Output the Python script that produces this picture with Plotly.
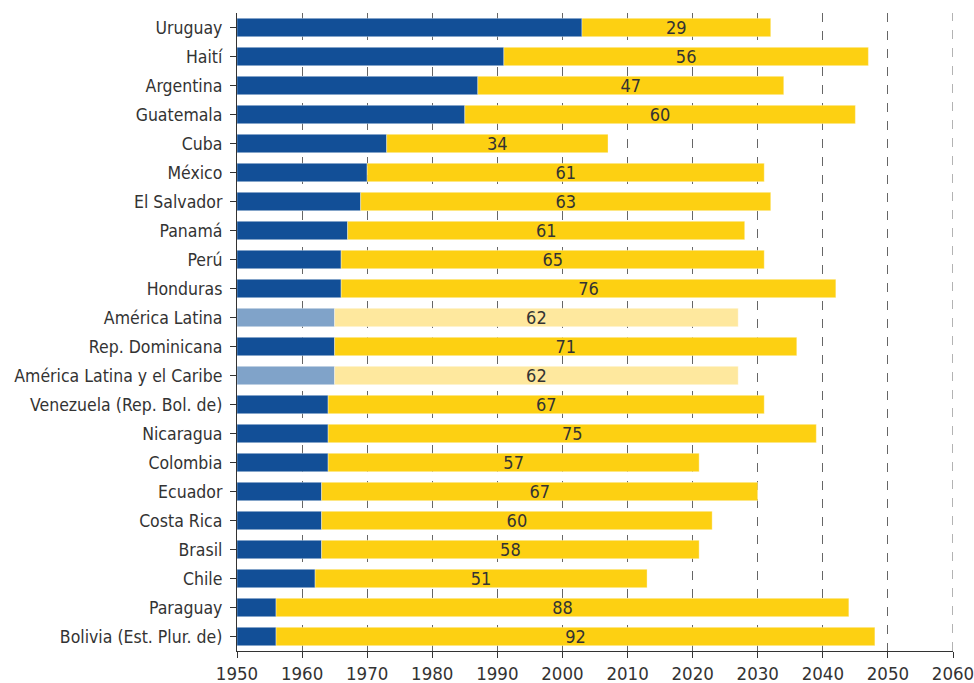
import plotly.graph_objects as go

countries = ["Uruguay", "Haití", "Argentina", "Guatemala", "Cuba", "México", "El Salvador",
             "Panamá", "Perú", "Honduras", "América Latina", "Rep. Dominicana",
             "América Latina y el Caribe", "Venezuela (Rep. Bol. de)", "Nicaragua", "Colombia",
             "Ecuador", "Costa Rica", "Brasil", "Chile", "Paraguay", "Bolivia (Est. Plur. de)"]
start_year = [2003, 1991, 1987, 1985, 1973, 1970, 1969, 1967, 1966, 1966, 1965, 1965,
              1965, 1964, 1964, 1964, 1963, 1963, 1963, 1962, 1956, 1956]
duration = [29, 56, 47, 60, 34, 61, 63, 61, 65, 76, 62, 71, 62, 67, 75, 57, 67, 60, 58, 51, 88, 92]
aggregates = ["América Latina", "América Latina y el Caribe"]
x_ticks = [1950, 1960, 1970, 1980, 1990, 2000, 2010, 2020, 2030, 2040, 2050, 2060]

BASE_YEAR = 1950
blue_c = ["#80A3C9" if c in aggregates else "#124F97" for c in countries]
yel_c = ["#FEE89E" if c in aggregates else "#FDD012" for c in countries]

FONT = "Liberation Sans Narrow, DejaVu Sans Condensed, Roboto, sans-serif"
BW = 0.63

fig = go.Figure()
fig.add_trace(go.Bar(
    y=countries, x=[s - BASE_YEAR for s in start_year], base=BASE_YEAR,
    orientation="h", marker=dict(color=blue_c, line=dict(width=0.6, color="rgba(255,255,255,0.6)")),
    width=BW, hoverinfo="skip", showlegend=False))
fig.add_trace(go.Bar(
    y=countries, x=duration, base=start_year,
    orientation="h", marker=dict(color=yel_c, line=dict(width=0.6, color="rgba(255,255,255,0.6)")),
    width=BW, text=[str(d) for d in duration], textposition="inside",
    insidetextanchor="middle", textangle=0, constraintext="none",
    textfont=dict(family=FONT, size=18, color="#333333"),
    hoverinfo="skip", showlegend=False))

# last gridline at the right edge of the plot (plotly skips gridlines at the edge)
fig.add_shape(type="line", xref="x", yref="paper", x0=x_ticks[-1], x1=x_ticks[-1], y0=0, y1=1,
              line=dict(color="#666666", width=1, dash="dash"), layer="below")

fig.update_layout(
    barmode="overlay",
    width=974, height=683,
    margin=dict(l=237, r=21, t=13, b=32, autoexpand=False),
    paper_bgcolor="white", plot_bgcolor="white",
    font=dict(family=FONT, size=17, color="#333333"),
    xaxis=dict(range=[x_ticks[0], x_ticks[-1]], tickmode="array", tickvals=x_ticks,
               ticktext=[str(t) for t in x_ticks],
               showgrid=True, gridcolor="#666666", griddash="dash", gridwidth=1,
               showline=True, linecolor="#333333", linewidth=1.2,
               ticks="outside", ticklen=6, tickcolor="#333333",
               ticklabeloverflow="allow",
               tickfont=dict(family=FONT, size=18.5, color="#333333"),
               zeroline=False, automargin=False),
    yaxis=dict(autorange="reversed", showgrid=False,
               showline=True, linecolor="#333333", linewidth=1.2,
               ticks="outside", ticklen=6, tickcolor="#333333",
               ticklabelstandoff=4,
               tickfont=dict(family=FONT, size=17.5, color="#333333"),
               automargin=False),
)

fig.write_html("out.html", config={"displayModeBar": False},
               post_script="document.body.style.margin='0';document.body.style.overflow='hidden';")
